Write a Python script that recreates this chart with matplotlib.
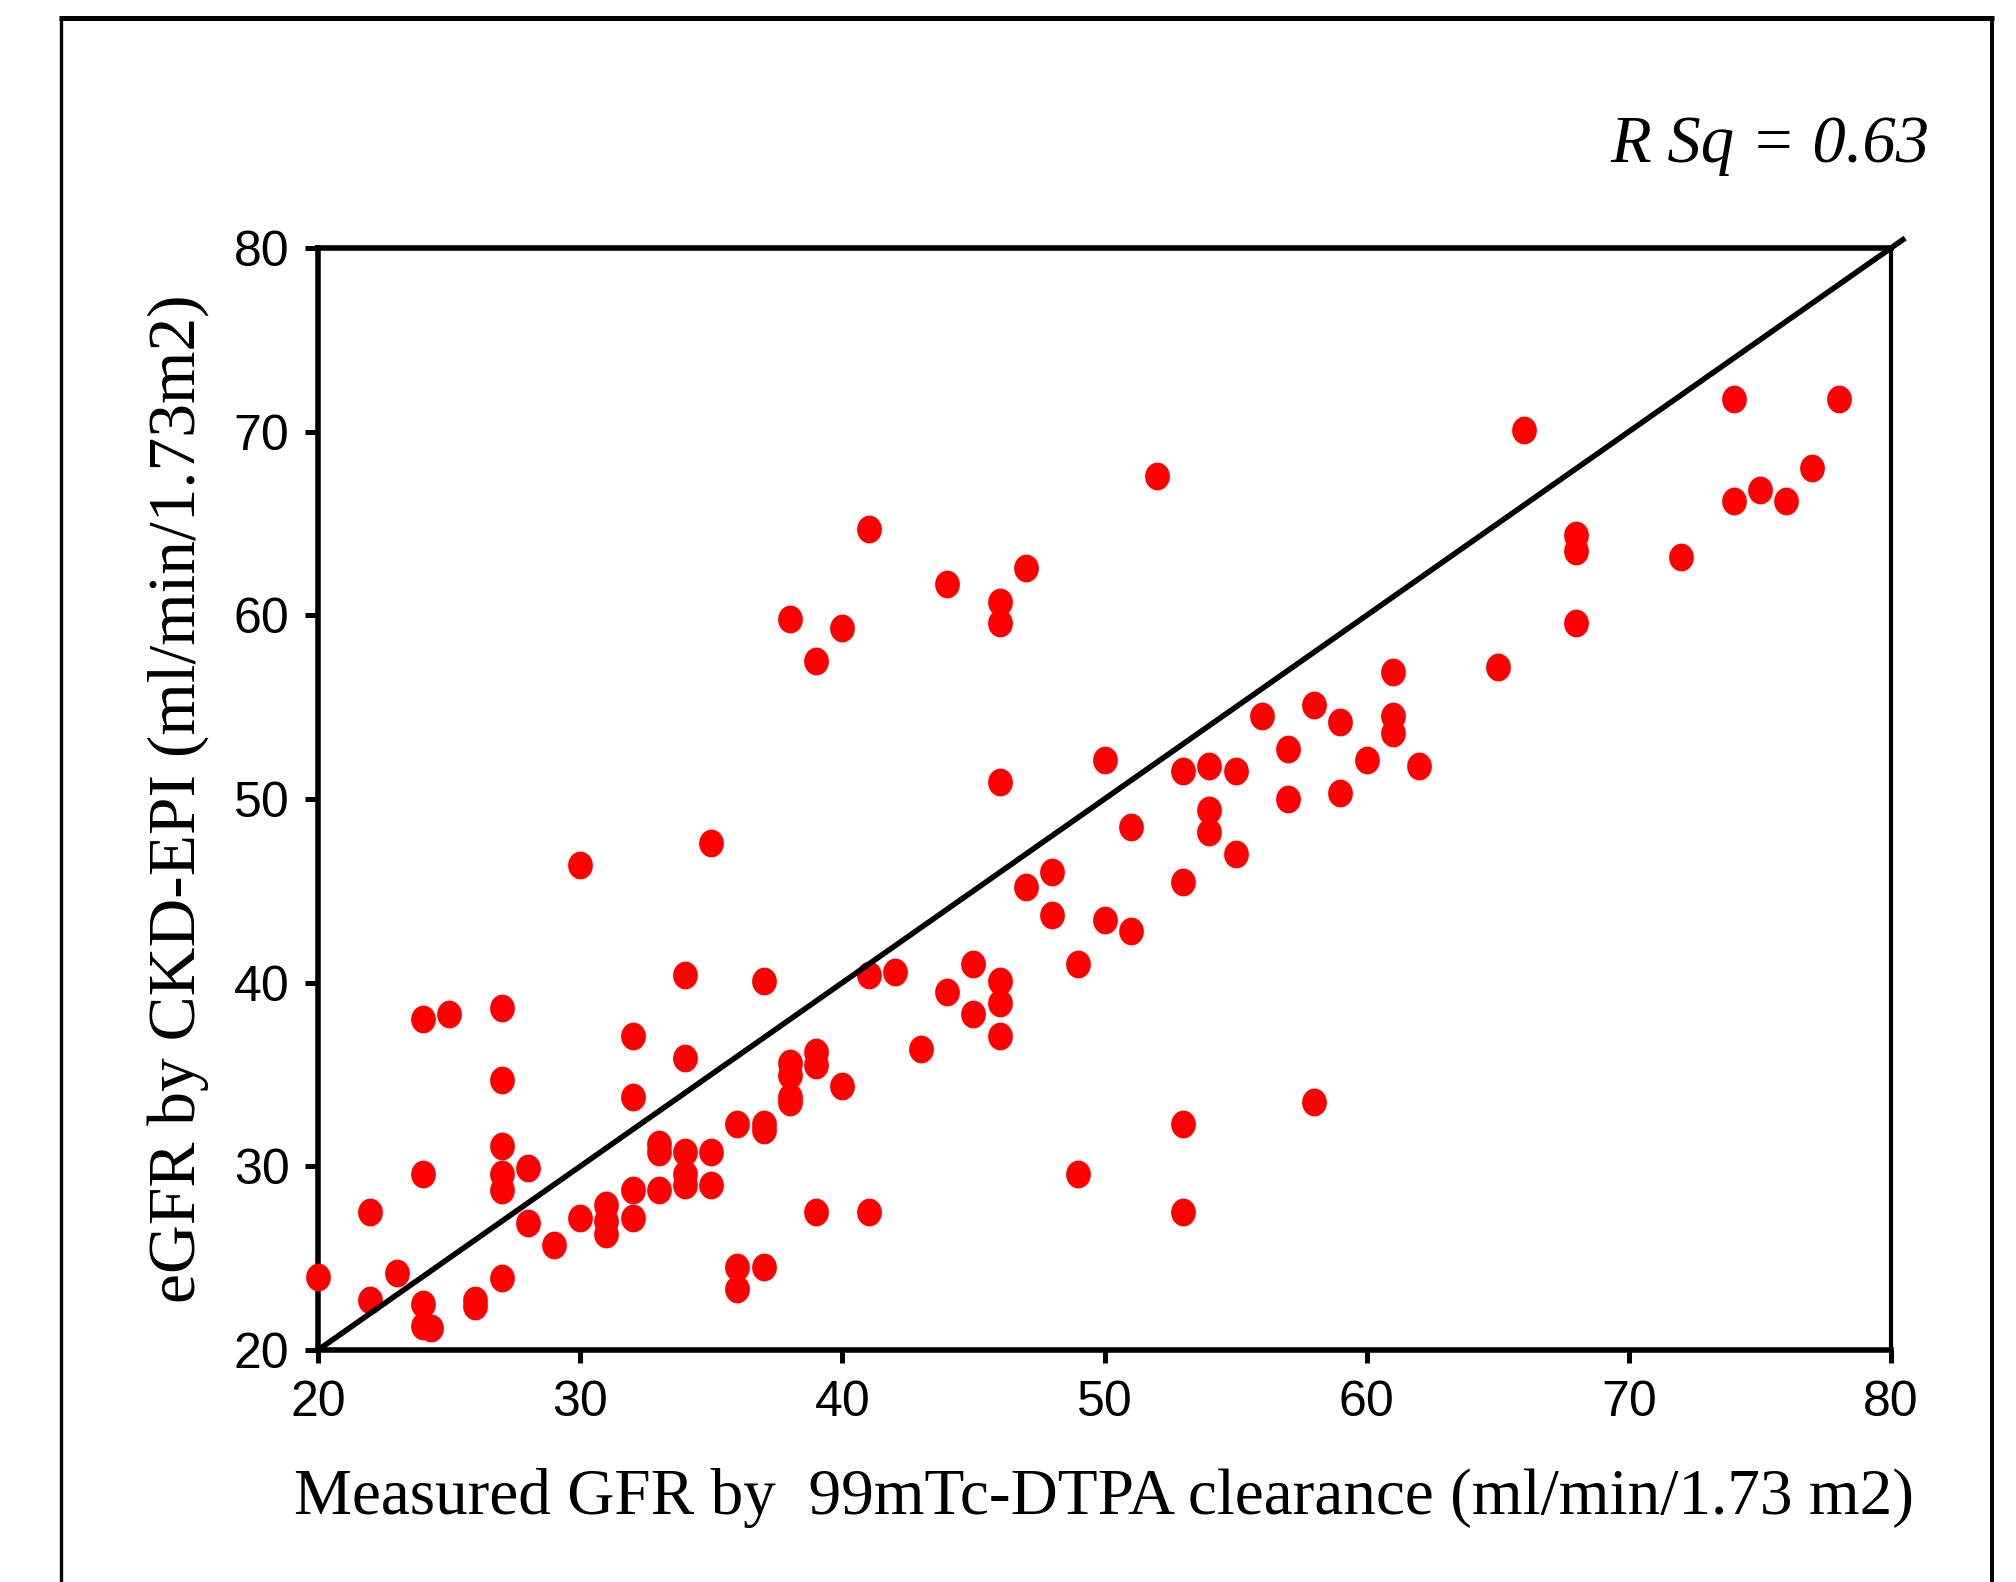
import numpy as np
import matplotlib
matplotlib.use('Agg')
import matplotlib.pyplot as plt
from matplotlib.lines import Line2D
from matplotlib.path import Path

# measured GFR (x) vs eGFR CKD-EPI (y)
measured = [20, 22, 22, 23, 24, 24, 24, 24, 24.3, 25, 26, 26, 27, 27, 27, 27, 27, 27,
            28, 28, 29, 30, 30, 31, 31, 31, 32, 32, 32, 32, 33, 33, 33,
            34, 34, 34, 34, 34, 35, 35, 35, 36, 36, 36, 37, 37, 37, 37,
            38, 38, 38, 38, 38, 39, 39, 39, 39, 40, 40, 41, 41, 41, 42, 43,
            44, 44, 45, 45, 46, 46, 46, 46, 46, 46, 47, 47, 48, 48, 49, 49,
            50, 50, 51, 51, 52, 53, 53, 53, 53, 54, 54, 54, 55, 55, 56, 57, 57,
            58, 58, 59, 59, 60, 61, 61, 61, 62, 65, 66, 68, 68, 68, 72,
            74, 74, 75, 76, 77, 78]
egfr = [24.0, 27.5, 22.7, 24.2, 38.0, 29.6, 22.5, 21.3, 21.2, 38.3, 22.7, 22.4,
        38.6, 34.7, 31.1, 29.6, 28.7, 23.9,
        29.9, 26.9, 25.7, 46.4, 27.2, 27.9, 27.0, 26.3, 37.1, 33.8, 28.7, 27.2,
        31.2, 30.8, 28.7,
        40.4, 35.9, 30.8, 29.6, 29.0, 47.6, 30.8, 29.0, 32.3, 24.5, 23.3,
        40.1, 32.3, 32.0, 24.5,
        33.5, 59.8, 35.6, 35.0, 33.8, 57.5, 36.2, 35.5, 27.5, 59.3, 34.4,
        64.7, 40.4, 27.5, 40.6, 36.4,
        61.7, 39.5, 41.0, 38.3, 60.7, 59.6, 50.9, 40.1, 38.9, 37.1, 62.6, 45.2,
        46.0, 43.7, 41.0, 29.6,
        52.1, 43.4, 48.5, 42.8, 67.6, 51.5, 45.5, 32.3, 27.5, 51.8, 49.4, 48.2,
        51.5, 47.0, 54.5, 52.7, 50.0,
        55.1, 33.5, 54.2, 50.3, 52.1, 56.9, 54.5, 53.6, 51.8, 57.2, 70.1,
        64.4, 63.5, 59.6, 63.2,
        71.8, 66.2, 66.8, 66.2, 68.0, 71.8]

ref_line = [20, 80.45]
r_sq_text = 'R Sq = 0.63'
x_ticks = [20, 30, 40, 50, 60, 70, 80]
y_ticks = [20, 30, 40, 50, 60, 70, 80]

W, H = 2016, 1582
fig = plt.figure(figsize=(W / 100, H / 100), dpi=100)

# outer frame of the original figure (bottom edge is cut off)
fig.add_artist(Line2D([61 / W, 61 / W], [-0.05, 1 - 18 / H], transform=fig.transFigure,
                      color='black', lw=2.4, solid_capstyle='butt'))
fig.add_artist(Line2D([1992 / W, 1992 / W], [-0.05, 1 - 18 / H], transform=fig.transFigure,
                      color='black', lw=2.8, solid_capstyle='butt'))
fig.add_artist(Line2D([59 / W, 1994 / W], [1 - 18 / H, 1 - 18 / H], transform=fig.transFigure,
                      color='black', lw=3.6, solid_capstyle='butt'))

ax = fig.add_axes([318 / W, 1 - 1350 / H, (1891 - 318) / W, (1350 - 248) / H])

# slightly tall dots like the original
t = np.linspace(0, 2 * np.pi, 60)
dot = Path(np.column_stack([0.89 * np.cos(t), np.sin(t)]), closed=True)

ax.plot(measured, egfr, linestyle='none', marker=dot, color='red', markersize=20,
        markeredgewidth=0, zorder=3, clip_on=False)
ax.plot(ref_line, ref_line, color='black', lw=4, zorder=4, clip_on=False)

ax.set_xlim(20, 80)
ax.set_ylim(20, 80)
ax.set_xticks(x_ticks)
ax.set_yticks(y_ticks)

for side in ['left', 'bottom', 'top']:
    ax.spines[side].set_linewidth(4)
ax.spines['right'].set_linewidth(3)

ax.tick_params(direction='out', length=9.5, width=3.6)
ax.tick_params(axis='x', pad=12)
ax.tick_params(axis='y', pad=11)
for lab in ax.get_xticklabels() + ax.get_yticklabels():
    lab.set_family('Liberation Sans')
    lab.set_fontsize(36)

ax.set_xlabel('Measured GFR by  99mTc-DTPA clearance (ml/min/1.73 m2)',
              family='Liberation Serif', fontsize=47, labelpad=30)
ax.set_ylabel('eGFR by CKD-EPI (ml/min/1.73m2)',
              family='Liberation Serif', fontsize=48.6, labelpad=18)

fig.text(1929 / W, 1 - 146 / H, r_sq_text, family='Liberation Serif', style='italic',
         fontsize=48, ha='right', va='center')

fig.savefig('out.png', dpi=100)
